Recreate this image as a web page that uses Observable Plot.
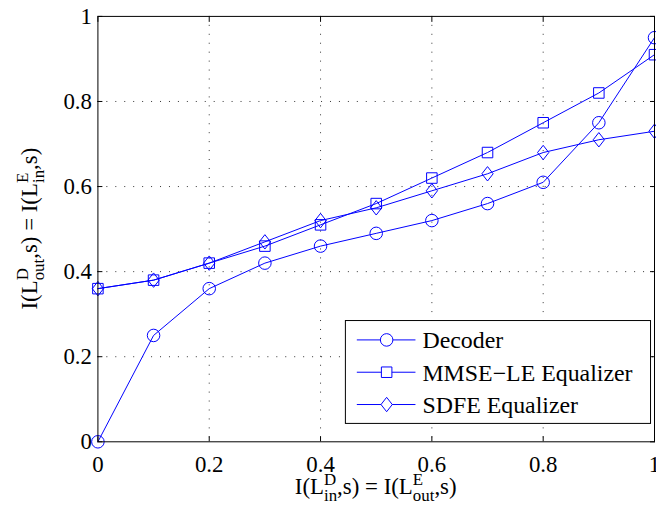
<!DOCTYPE html>
<html><head><meta charset="utf-8">
<script src="https://cdn.jsdelivr.net/npm/d3@7"></script>
<script src="https://cdn.jsdelivr.net/npm/@observablehq/plot@0.6"></script>
<style>
html,body{margin:0;padding:0;background:#fff;overflow:hidden;}
#chart{width:656px;height:521px;overflow:hidden;position:relative;}
#chart text{font-family:'Liberation Serif','Times New Roman',serif;}
</style></head><body><div id="chart"></div>
<script>
// ---- data ----
const xValues = [0, 0.1, 0.2, 0.3, 0.4, 0.5, 0.6, 0.7, 0.8, 0.9, 1];
const decoder = [0, 0.25, 0.36, 0.42, 0.46, 0.49, 0.52, 0.56, 0.61, 0.75, 0.95];
const mmseLE  = [0.36, 0.38, 0.42, 0.46, 0.51, 0.56, 0.62, 0.68, 0.75, 0.82, 0.91];
const sdfe    = [0.36, 0.38, 0.42, 0.47, 0.52, 0.55, 0.59, 0.63, 0.68, 0.71, 0.73];
const seriesNames = ["Decoder", "MMSE\u2212LE Equalizer", "SDFE Equalizer"];
const xTicks = [0, 0.2, 0.4, 0.6, 0.8, 1];
const xTickLabels = ["0", "0.2", "0.4", "0.6", "0.8", "1"];
const yTicks = [0, 0.2, 0.4, 0.6, 0.8, 1];
const yTickLabels = ["0", "0.2", "0.4", "0.6", "0.8", "1"];

const FONT = "'Liberation Serif', 'Times New Roman', serif";
const BLUE = "#0000ff";

// custom marker shapes (MATLAB-like)
const circleSym = {draw(ctx, size) { const r = Math.sqrt(size / Math.PI); ctx.moveTo(r, 0); ctx.arc(0, 0, r, 0, 2 * Math.PI); }};
const squareSym = {draw(ctx, size) { const r = Math.sqrt(size / Math.PI) * 0.84;
  ctx.moveTo(-r, -r); ctx.lineTo(r, -r); ctx.lineTo(r, r); ctx.lineTo(-r, r); ctx.closePath(); }};
const diamondSym = {draw(ctx, size) { const r = Math.sqrt(size / Math.PI); const w = r * 0.9, h = r * 1.15;
  ctx.moveTo(0, -h); ctx.lineTo(w, 0); ctx.lineTo(0, h); ctx.lineTo(-w, 0); ctx.closePath(); }};
const symbols = [circleSym, squareSym, diamondSym];
const seriesValues = [decoder, mmseLE, sdfe];

const rows = seriesValues.map((vals, s) => xValues.map((x, i) => ({x, y: vals[i], series: seriesNames[s]})));
const R = 6.3;

const plot = Plot.plot({
  width: 660, height: 521,
  marginLeft: 98, marginRight: 2, marginTop: 16, marginBottom: 77,
  style: {fontFamily: FONT, fontSize: "23px", color: "black", background: "white", overflow: "visible"},
  x: {domain: [0, 1]},
  y: {domain: [0, 1]},
  marks: [
    Plot.gridX(xTicks.slice(1, -1), {stroke: "#333", strokeOpacity: 1, strokeWidth: 1, strokeDasharray: "1,8"}),
    Plot.gridY(yTicks.slice(1, -1), {stroke: "#333", strokeOpacity: 1, strokeWidth: 1, strokeDasharray: "1,8"}),
    ...rows.map(r => Plot.line(r, {x: "x", y: "y", stroke: BLUE, strokeWidth: 1})),
    ...rows.map((r, s) => Plot.dot(r, {x: "x", y: "y", symbol: symbols[s], r: R, stroke: BLUE, strokeWidth: 1, fill: "none"})),
    Plot.axisX(xTicks, {anchor: "bottom", tickSize: -5, tickPadding: 19, tickFormat: (d, i) => xTickLabels[i], fontSize: 23, fontFamily: FONT, label: null}),
    Plot.axisX(xTicks, {anchor: "top", tickSize: -5, tickFormat: () => "", label: null}),
    Plot.axisY(yTicks, {anchor: "left", tickSize: -5, tickPadding: 11, tickFormat: (d, i) => yTickLabels[i], fontSize: 23, fontFamily: FONT, label: null}),
    Plot.axisY(yTicks, {anchor: "right", tickSize: -5, tickFormat: () => "", label: null}),
    Plot.frame({stroke: "black", strokeWidth: 1})
  ]
});
document.getElementById("chart").appendChild(plot);

const svg = d3.select(plot);

// ---- axis labels with super/subscripts ----
function richLabel(parent, segments, mainSize, smallSize) {
  const g = parent.append("g").attr("fill", "black").attr("text-anchor", "start");
  let x = 0;
  for (const seg of segments) {
    if (seg.t) {
      const t = g.append("text").attr("x", x).attr("y", 0).style("font-size", mainSize + "px").attr("text-anchor", "start").text(seg.t);
      x += t.node().getComputedTextLength();
    } else {
      const a = g.append("text").attr("x", x).attr("y", -9).style("font-size", smallSize + "px").attr("text-anchor", "start").text(seg.sup);
      const b = g.append("text").attr("x", x).attr("y", 7).style("font-size", smallSize + "px").attr("text-anchor", "start").text(seg.sub);
      x += Math.max(a.node().getComputedTextLength(), b.node().getComputedTextLength());
    }
  }
  return {g, width: x};
}
const xLabelSegs = [{t: "I(L"}, {sup: "D", sub: "in"}, {t: ",s) = I(L"}, {sup: "E", sub: "out"}, {t: ",s)"}];
const yLabelSegs = [{t: "I(L"}, {sup: "D", sub: "out"}, {t: ",s) = I(L"}, {sup: "E", sub: "in"}, {t: ",s)"}];
const xl = richLabel(svg, xLabelSegs, 23, 17);
xl.g.attr("transform", `translate(${378 - xl.width / 2},497)`);
const yl = richLabel(svg, yLabelSegs, 23, 17);
yl.g.attr("transform", `translate(37,${230 + yl.width / 2}) rotate(-90)`);

// ---- legend ----
const lg = svg.append("g");
lg.append("rect").attr("x", 347.5).attr("y", 322.5).attr("width", 307).attr("height", 103.5)
  .attr("fill", "white").attr("stroke", "black").attr("stroke-width", 1);
seriesNames.forEach((name, i) => {
  const cy = 342 + i * 32.5;
  lg.append("line").attr("x1", 359).attr("x2", 418).attr("y1", cy).attr("y2", cy).attr("stroke", BLUE).attr("stroke-width", 1);
  lg.append("path").attr("transform", `translate(389,${cy})`)
    .attr("d", d3.symbol(symbols[i], R * R * Math.PI)())
    .attr("fill", "white").attr("stroke", BLUE).attr("stroke-width", 1);
  lg.append("text").attr("x", 425).attr("y", cy).attr("dy", "0.35em").attr("text-anchor", "start")
    .style("font-size", "24px").attr("fill", "black").text(name);
});
</script>
</body></html>
